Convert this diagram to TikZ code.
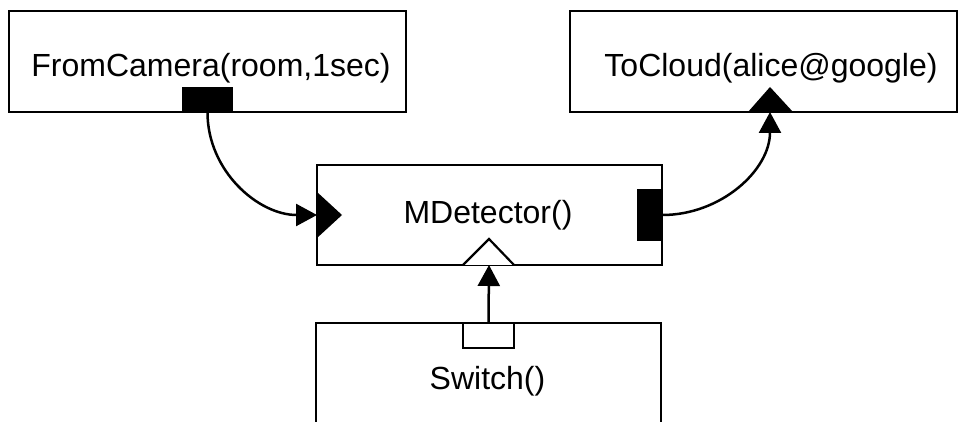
\documentclass[tikz,border=0pt]{standalone}
\usepackage{fontspec}
\setmainfont{Liberation Sans}
\usetikzlibrary{arrows.meta}
\tikzstyle{block}=[rectangle,draw=black,fill=white,line width=1.4pt,
                   inner sep=0pt]
\tikzstyle{blocktext}=[anchor=base,inner sep=0pt,font=\fontsize{16}{18}\selectfont]
\tikzstyle{blackport}=[rectangle,draw=none,fill=black,inner sep=0pt]
\tikzstyle{whiteport}=[rectangle,draw=black,fill=white,line width=1.1pt,
                       inner sep=0pt]
\tikzstyle{wire}=[line width=1.25pt,
                  -{Triangle[length=10.5pt,width=11pt]}]

\begin{document}
\begin{tikzpicture}[x=0.5pt,y=-0.5pt]
    \useasboundingbox (0,0) rectangle (959,422);
    \clip (0,0) rectangle (959,422);
    % blocks
    \node (cam)   at (207.5, 61.5) [block,minimum width=198.5pt,minimum height=50.5pt]{};
    \node (cloud) at (763.5, 61.5) [block,minimum width=193.5pt,minimum height=50.5pt]{};
    \node (det)   at (489.5,215)   [block,minimum width=172.5pt,minimum height=50pt]{};
    \node (sw)    at (488.5,380)   [block,minimum width=172.5pt,minimum height=57pt]{};
    \node (camtxt)   at (211,77)    [blocktext]{FromCamera(room,1sec)};
    \node (cloudtxt) at (771,77)    [blocktext]{ToCloud(alice@google)};
    \node (dettxt)   at (488,224)   [blocktext]{MDetector()};
    \node (swtxt)    at (487.5,389) [blocktext]{Switch()};
    % ports
    \node (camout) at (207.5,99.5) [blackport,minimum width=25.5pt,minimum height=12.5pt]{};
    \node (detout) at (649.5,215)  [blackport,minimum width=12.5pt,minimum height=26pt]{};
    \node (swout)  at (488.5,335.5) [whiteport,minimum width=25.5pt,minimum height=12.5pt]{};
    \coordinate (cloudin) at (770,112);
    \coordinate (detin)   at (317,215);
    \coordinate (detctl)  at (489,265);
    \fill (cloudin) ++(-22,0) -- ++(22,-25) -- ++(23,25) -- cycle;
    \fill (detin) ++(0,-23) -- ++(25,23) -- ++(-25,23) -- cycle;
    \draw[line width=1.1pt,fill=white,line join=miter]
        (detctl) ++(-26,0) -- ++(26,-26) -- ++(25,26);
    % connections
    \draw[wire] (camout.south) to[out=-90,in=180] (detin);
    \draw[wire] (detout.east) to[out=0,in=-90] (cloudin);
    \draw[wire] (swout.north) -- (detctl);
\end{tikzpicture}
\end{document}
